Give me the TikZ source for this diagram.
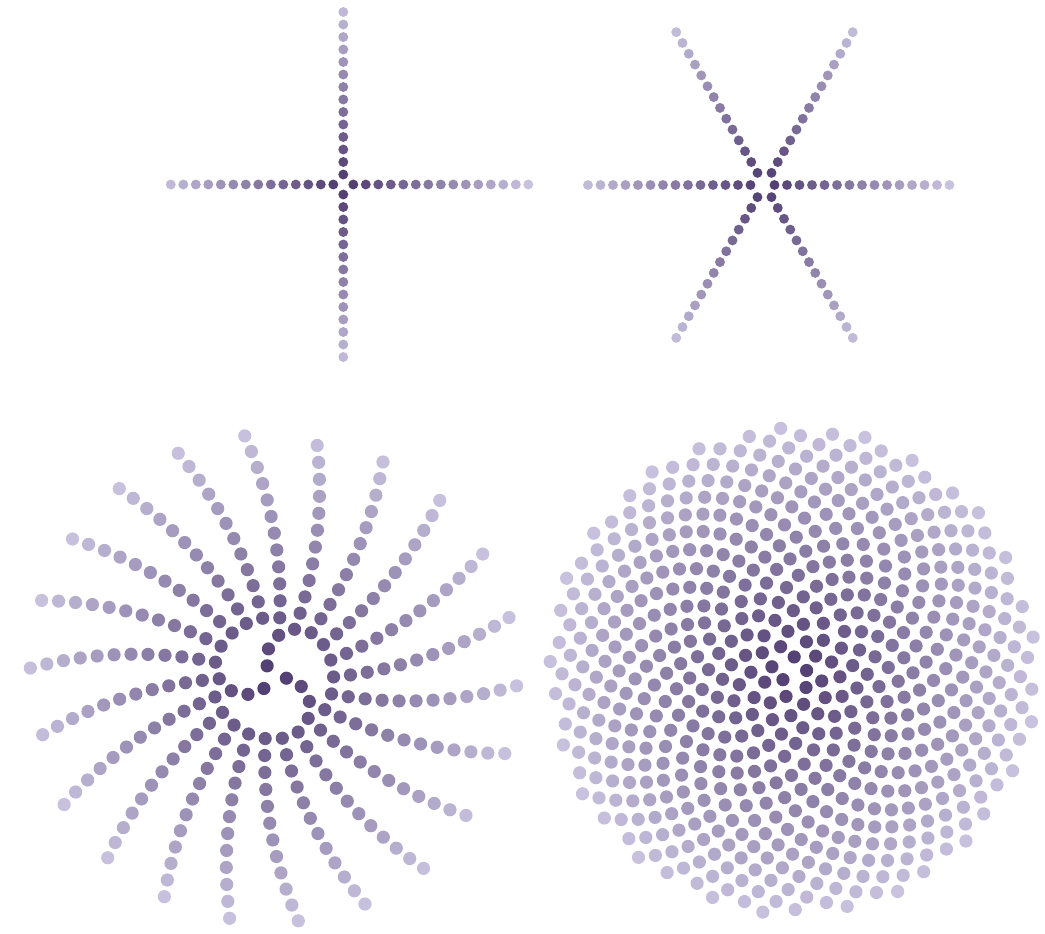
\documentclass[tikz,border=0pt]{standalone}
\usepackage{tikz}
\definecolor{phdark}{RGB}{78,58,110}
\definecolor{phlight}{RGB}{200,194,222}
\makeatletter
\newdimen\ph@best \newdimen\ph@t \newdimen\ph@s \newdimen\ph@q
\newdimen\ph@rj \newdimen\ph@tmp \newdimen\ph@X \newdimen\ph@Y \newdimen\ph@A
\newcount\ph@n \newcount\ph@j \newcount\ph@N \newcount\ph@pct
\def\ph@check{%
  \edef\ph@xj{\csname ph@x\the\ph@j\endcsname}%
  \edef\ph@yj{\csname ph@y\the\ph@j\endcsname}%
  \ph@s=\dimexpr \ph@u\dimexpr\ph@yj\relax - \ph@v\dimexpr\ph@xj\relax\relax
  \ifdim\ifdim\ph@s<\z@ -\fi\ph@s<\p@
    \ph@t=\dimexpr \ph@u\dimexpr\ph@xj\relax + \ph@v\dimexpr\ph@yj\relax\relax
    \ph@q=\dimexpr \p@ - \ph@s*\number\ph@s/65536\relax
    \pgfmathsqrt@{\strip@pt\ph@q}%
    \ph@tmp=\dimexpr\ph@t+\pgfmathresult pt\relax
    \ifdim\ph@tmp>\ph@best \ph@best=\ph@tmp\relax \fi
  \fi}
\def\ph@inner{%
  \let\ph@next\relax
  \ifnum\ph@j>\m@ne
    \ph@rj=\csname ph@r\the\ph@j\endcsname\relax
    \ifdim\dimexpr\ph@rj+\p@\relax>\ph@best
      \ph@check
      \advance\ph@j\m@ne
      \let\ph@next\ph@inner
    \fi
  \fi
  \ph@next}
\def\ph@draw{%
  \ph@X=\dimexpr\ph@cx\p@ + \ph@d\dimexpr\csname ph@x\the\ph@n\endcsname\relax\relax
  \ph@Y=\dimexpr -\ph@cy\p@ + \ph@sg\dimexpr \ph@d\dimexpr\csname ph@y\the\ph@n\endcsname\relax\relax\relax
  \ph@pct=\numexpr 100*\ph@best/\dimexpr\ph@Rcol\p@\relax\relax
  \ifnum\ph@pct>100 \ph@pct=100 \fi
  \colorlet{phc}{phlight!\the\ph@pct!phdark}%
  \fill[phc] (\ph@X,\ph@Y) circle[radius=\ph@dr pt];}
\def\ph@step{%
  \let\ph@nxt\relax
  \ifnum\ph@n<\ph@N
    \edef\ph@phi{\strip@pt\ph@A}%
    \pgfmathcos@{\ph@phi}\edef\ph@u{\pgfmathresult}%
    \pgfmathsin@{\ph@phi}\edef\ph@v{\pgfmathresult}%
    \ifnum\ph@n=\z@ \ph@best=0.8\p@ \else
      \ph@best=\csname ph@r\the\numexpr\ph@n-1\endcsname\relax \fi
    \ph@j=\numexpr\ph@n-1\relax
    \ph@inner
    \ifdim\ph@best>\ph@Rmax\p@ \else
      \expandafter\edef\csname ph@r\the\ph@n\endcsname{\the\ph@best}%
      \ph@tmp=\ph@u\ph@best
      \expandafter\edef\csname ph@x\the\ph@n\endcsname{\the\ph@tmp}%
      \ph@tmp=\ph@v\ph@best
      \expandafter\edef\csname ph@y\the\ph@n\endcsname{\the\ph@tmp}%
      \ph@draw
      \advance\ph@n\@ne
      \advance\ph@A by \ph@alpha\p@
      \ifdim\ph@A<360\p@ \else \advance\ph@A by -360\p@ \fi
      \let\ph@nxt\ph@step
    \fi
  \fi
  \ph@nxt}
% #1 alpha, #2 N, #3 Rmax, #4 Rcol, #5 d(px), #6 cx, #7 cy, #8 sign, #9 dot radius
\newcommand\phyllo[9]{%
  \def\ph@alpha{#1}\ph@N=#2\relax\def\ph@Rmax{#3}\def\ph@Rcol{#4}%
  \def\ph@d{#5}\def\ph@cx{#6}\def\ph@cy{#7}\def\ph@sg{#8}\def\ph@dr{#9}%
  \ph@A=\z@ \ph@n=\z@
  \ph@step}
\makeatother
\begin{document}
\begin{tikzpicture}
\useasboundingbox (0pt,0pt) rectangle (1045pt,-934pt);
\phyllo{90}{57}{99}{14.8}{12.5}{343.3}{184.5}{1}{4.95}
\phyllo{60}{85}{99}{14.8}{12.5}{764.5}{185}{1}{4.95}
\phyllo{114.6}{3000}{14.56}{14.56}{17}{272.8}{678.2}{1}{6.6}
\phyllo{137.50776}{3000}{14.4}{14.4}{17}{793}{670.5}{-1}{6.6}
\end{tikzpicture}
\end{document}
